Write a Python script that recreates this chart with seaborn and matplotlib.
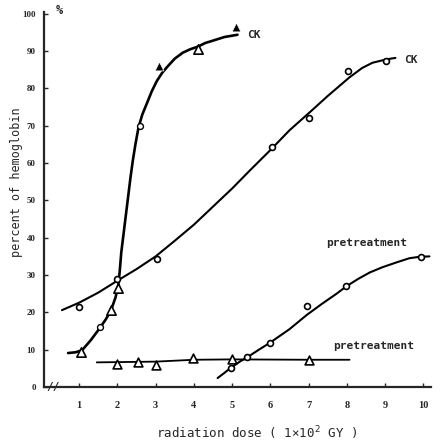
import matplotlib
matplotlib.use("Agg")
import matplotlib.pyplot as plt
import seaborn as sns

sns.set_style("ticks")
plt.rcParams['font.family'] = ['DejaVu Sans Mono', 'DejaVu Sans']

# ---- data ----
# CK (triangles) - steep curve
ck_tri_curve_x = [0.71, 0.9, 1.07, 1.3, 1.54, 1.7, 1.83, 1.95, 2.02, 2.06, 2.1, 2.16, 2.22, 2.28,
                  2.34, 2.4, 2.47, 2.55, 2.65, 2.77, 2.9, 3.03, 3.17, 3.32, 3.5, 3.71, 3.9, 4.1,
                  4.3, 4.49, 4.8, 5.14]
ck_tri_curve_y = [9.1, 9.3, 9.8, 12.5, 15.8, 18.2, 20.5, 24.0, 27.0, 31.0, 36.0, 41.0, 46.0, 51.0,
                  56.0, 60.5, 65.0, 69.5, 73.0, 76.0, 79.3, 82.0, 84.2, 86.0, 88.0, 89.6, 90.5, 91.2,
                  92.2, 92.8, 93.8, 94.4]
ck_tri_open_x = [1.05, 1.83, 2.02, 4.1]
ck_tri_open_y = [9.5, 20.6, 26.5, 90.6]
ck_tri_filled_x = [3.08, 5.09]
ck_tri_filled_y = [86.0, 96.5]
ck_tri_dots_x = [1.54, 2.58]
ck_tri_dots_y = [16.0, 70.0]

# CK (circles) - gradual curve
ck_circ_curve_x = [0.55, 1.0, 1.5, 2.0, 2.5, 3.0, 3.5, 4.0, 4.67, 5.0, 5.46, 6.0, 6.5, 7.07,
                   7.5, 8.07, 8.4, 8.67, 9.03, 9.27]
ck_circ_curve_y = [20.6, 22.6, 25.3, 28.5, 31.6, 35.0, 39.2, 43.5, 50.0, 53.2, 58.0, 63.5, 68.8, 74.0,
                   78.0, 83.0, 85.5, 86.9, 87.8, 88.2]
ck_circ_x = [1.0, 2.0, 3.03, 6.03, 7.02, 8.04, 9.03]
ck_circ_y = [21.5, 28.9, 34.2, 64.2, 72.0, 84.8, 87.4]

# pretreatment (circles) - rising curve
pre_circ_curve_x = [4.62, 4.8, 4.96, 5.2, 5.4, 5.7, 5.98, 6.5, 6.95, 7.35, 7.73, 7.99, 8.3, 8.6,
                    8.93, 9.3, 9.63, 9.9, 10.16]
pre_circ_curve_y = [2.4, 3.8, 5.1, 6.8, 8.0, 10.0, 11.8, 15.5, 19.3, 22.3, 25.0, 27.0, 29.0, 30.7,
                    32.1, 33.4, 34.5, 34.9, 35.0]
pre_circ_x = [4.96, 5.4, 5.98, 6.97, 7.99, 9.95]
pre_circ_y = [5.1, 8.0, 11.8, 21.7, 27.0, 34.8]

# pretreatment (triangles) - flat line
pre_tri_line_x = [1.46, 3.0, 4.0, 5.0, 7.0, 8.07]
pre_tri_line_y = [6.6, 6.8, 7.3, 7.4, 7.3, 7.3]
pre_tri_x = [2.0, 2.53, 3.0, 3.97, 5.0, 7.0]
pre_tri_y = [6.1, 6.7, 5.9, 7.8, 7.5, 7.2]

x_ticks = [1, 2, 3, 4, 5, 6, 7, 8, 9, 10]
x_tick_labels = ["1", "2", "3", "4", "5", "6", "7", "8", "9", "10"]
y_ticks = [0, 10, 20, 30, 40, 50, 60, 70, 80, 90, 100]
y_tick_labels = ["0", "10", "20", "30", "40", "50", "60", "70", "80", "90", "100"]

# ---- figure ----
fig = plt.figure(figsize=(4.41, 4.45), dpi=100)
ax = fig.add_axes([44 / 441, 58 / 445, 387 / 441, 375 / 445])

k = dict(color="black", ax=ax, sort=False, estimator=None)
sns.lineplot(x=ck_tri_curve_x, y=ck_tri_curve_y, linewidth=1.9, **k)
sns.lineplot(x=ck_circ_curve_x, y=ck_circ_curve_y, linewidth=1.5, **k)
sns.lineplot(x=pre_circ_curve_x, y=pre_circ_curve_y, linewidth=1.5, **k)
sns.lineplot(x=pre_tri_line_x, y=pre_tri_line_y, linewidth=1.3, **k)

sns.scatterplot(x=ck_tri_open_x, y=ck_tri_open_y, marker="^", s=45, facecolor="white",
                edgecolor="black", linewidth=1.2, ax=ax, zorder=3)
sns.scatterplot(x=ck_tri_filled_x, y=ck_tri_filled_y, marker="^", s=40, color="black",
                ax=ax, zorder=3)
sns.scatterplot(x=ck_tri_dots_x, y=ck_tri_dots_y, marker="o", s=18, facecolor="white",
                edgecolor="black", linewidth=1.0, ax=ax, zorder=3)
sns.scatterplot(x=ck_circ_x, y=ck_circ_y, marker="o", s=18, facecolor="white",
                edgecolor="black", linewidth=1.2, ax=ax, zorder=3)
sns.scatterplot(x=pre_circ_x, y=pre_circ_y, marker="o", s=18, facecolor="white",
                edgecolor="black", linewidth=1.2, ax=ax, zorder=3)
sns.scatterplot(x=pre_tri_x, y=pre_tri_y, marker="^", s=40, facecolor="white",
                edgecolor="black", linewidth=1.2, ax=ax, zorder=3)

ax.set_xlim(0.08, 10.2)
ax.set_ylim(0, 100.5)
sns.despine(ax=ax)
for s in ["left", "bottom"]:
    ax.spines[s].set_linewidth(1.6)

ax.set_xticks(x_ticks)
ax.set_xticklabels(x_tick_labels, fontsize=7.5, fontweight="bold", family="Liberation Serif")
ax.set_yticks(y_ticks)
ax.set_yticklabels(y_tick_labels, fontsize=6.5, fontweight="bold", family="Liberation Serif")
ax.tick_params(axis="both", direction="in", length=3, width=1)
ax.tick_params(axis="x", pad=10)
ax.tick_params(axis="y", pad=6)

ax.set_ylabel("percent of hemoglobin", fontsize=8.5)
ax.yaxis.set_label_coords(-0.055, 0.547)
ax.set_xlabel("radiation dose ( 1×10$^2$ GY )", fontsize=9)
ax.xaxis.set_label_coords(0.55, -0.1)

# axis break marks and unit
ax.text(0.33, 0.0, "//", fontsize=8, fontweight="bold",
        ha="center", va="center", clip_on=False)
ax.text(0.38, 100.8, "%", fontsize=8.5, fontweight="bold", ha="left", va="center", clip_on=False)

ax.text(5.4, 94.4, "CK", fontsize=8, fontweight="bold", ha="left", va="center")
ax.text(9.5, 87.7, "CK", fontsize=8, fontweight="bold", ha="left", va="center")
ax.text(7.45, 38.6, "pretreatment", fontsize=8, fontweight="bold", ha="left", va="center")
ax.text(7.65, 11.0, "pretreatment", fontsize=8, fontweight="bold", ha="left", va="center")

fig.savefig("out.png", dpi=100)
